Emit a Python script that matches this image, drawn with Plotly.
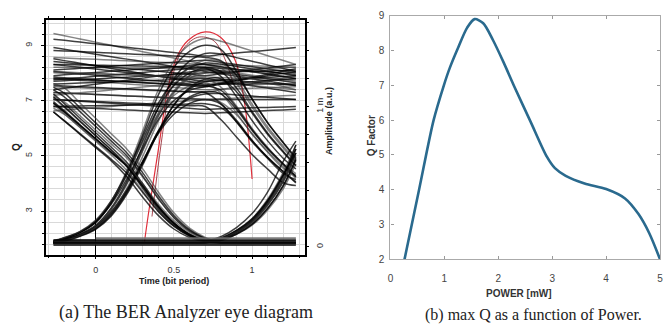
import numpy as np
import plotly.graph_objects as go

# ---------------- data: right panel (max Q vs power) ----------------
power_mw = [0.26, 0.53, 0.80, 0.99, 1.10, 1.26, 1.42, 1.56, 1.72, 1.90, 2.10, 2.30, 2.60, 2.90, 3.05, 3.25, 3.60, 4.00, 4.35, 4.60, 4.80, 5.00]
q_factor = [2.00, 4.00, 6.00, 7.00, 7.50, 8.10, 8.65, 8.90, 8.78, 8.30, 7.65, 6.95, 5.95, 4.95, 4.62, 4.40, 4.18, 4.02, 3.75, 3.30, 2.75, 2.00]

# ---------------- data: left panel (eye diagram) ----------------
eye_time   = [-0.27, -0.2, -0.1, 0.0, 0.1, 0.2, 0.3, 0.4, 0.5, 0.6, 0.7, 0.8, 0.9, 1.0, 1.1, 1.2, 1.28]
rise_left  = [0.00, 0.02, 0.05, 0.10, 0.20, 0.35, 0.54, 0.74, 0.88, 0.96, 0.99, 1.0, 1.0, 1.0, 1.0, 1.0, 1.0]
fall_left  = [0.93, 0.87, 0.78, 0.69, 0.60, 0.51, 0.38, 0.24, 0.13, 0.055, 0.015, 0.0, 0.0, 0.0, 0.0, 0.0, 0.0]
fall_right = [1.0, 1.0, 1.0, 1.0, 1.0, 1.0, 1.0, 1.0, 1.0, 1.0, 1.0, 0.97, 0.86, 0.72, 0.60, 0.50, 0.42]
rise_right = [0.0, 0.0, 0.0, 0.0, 0.0, 0.0, 0.0, 0.0, 0.0, 0.0, 0.0, 0.02, 0.065, 0.13, 0.24, 0.39, 0.57]

# (bit_prev, bit_cur, bit_next, low, high_start, high_mid, high_end, time_shift)  amplitude in mW-units (a.u.)
eye_traces = [
    (1, 1, 1, .03, 1.52, 1.30, 1.20, 0), (1, 1, 1, .03, 1.48, 1.36, 1.42, 0),
    (1, 1, 1, .03, 1.42, 1.25, 1.15, 0), (1, 1, 1, .03, 1.35, 1.30, 1.28, 0),
    (1, 1, 1, .03, 1.32, 1.22, 1.30, 0), (1, 1, 1, .03, 1.30, 1.18, 1.22, 0),
    (1, 1, 1, .03, 1.28, 1.27, 1.18, 0), (1, 1, 1, .03, 1.25, 1.15, 1.25, 0),
    (1, 1, 1, .03, 1.22, 1.30, 1.20, 0), (1, 1, 1, .03, 1.20, 1.12, 1.14, 0),
    (1, 1, 1, .03, 1.18, 1.24, 1.26, 0), (1, 1, 1, .03, 1.16, 1.20, 1.10, 0),
    (1, 1, 1, .03, 1.14, 1.10, 1.22, 0), (1, 1, 1, .03, 1.12, 1.26, 1.17, 0),
    (1, 1, 1, .03, 1.10, 1.05, 1.05, 0), (1, 1, 1, .03, 1.08, 1.18, 1.12, 0),
    (1, 1, 1, .03, 1.05, 0.98, 1.00, 0), (1, 1, 1, .03, 1.00, 0.95, 0.98, 0),
    (1, 1, 1, .03, 0.97, 1.05, 1.08, 0), (1, 1, 1, .03, 1.26, 1.33, 1.24, 0),
    (1, 1, 1, .03, 1.34, 1.16, 1.16, 0), (1, 1, 1, .03, 1.24, 1.21, 1.19, 0),
    (1, 1, 1, .03, 1.19, 1.28, 1.23, 0), (1, 1, 1, .03, 1.21, 1.14, 1.27, 0),
    (0, 1, 1, .03, 0, 1.50, 1.30, 0.00), (0, 1, 1, .03, 0, 1.40, 1.25, 0.02),
    (0, 1, 1, .03, 0, 1.32, 1.22, -0.02), (0, 1, 1, .03, 0, 1.25, 1.28, 0.00),
    (0, 1, 1, .03, 0, 1.20, 1.15, 0.03), (0, 1, 1, .03, 0, 1.15, 1.20, -0.03),
    (0, 1, 1, .03, 0, 1.28, 1.12, 0.01), (0, 1, 1, .03, 0, 1.10, 1.05, 0.00),
    (0, 1, 0, .03, 0, 1.45, 0, 0.00), (0, 1, 0, .03, 0, 1.35, 0, 0.02),
    (0, 1, 0, .03, 0, 1.28, 0, -0.02), (0, 1, 0, .03, 0, 1.22, 0, 0.04),
    (0, 1, 0, .03, 0, 1.18, 0, -0.04), (0, 1, 0, .03, 0, 1.12, 0, 0.01),
    (0, 1, 0, .03, 0, 1.06, 0, -0.01), (0, 1, 0, .03, 0, 1.30, 0, 0.03),
    (1, 1, 0, .03, 1.40, 1.35, 0, 0.04), (1, 1, 0, .03, 1.30, 1.28, 0, 0.02),
    (1, 1, 0, .03, 1.25, 1.20, 0, -0.02), (1, 1, 0, .03, 1.20, 1.15, 0, 0.00),
    (1, 1, 0, .03, 1.15, 1.10, 0, -0.04), (1, 1, 0, .03, 1.10, 1.05, 0, 0.03),
    (1, 1, 0, .03, 1.05, 1.00, 0, -0.06), (1, 1, 0, .03, 1.00, 1.02, 0, 0.01),
    (1, 0, 0, .03, 1.25, 0, 0, 0.04), (1, 0, 0, .03, 1.20, 0, 0, 0.02),
    (1, 0, 0, .03, 1.18, 0, 0, -0.01), (1, 0, 0, .03, 1.12, 0, 0, -0.03),
    (1, 0, 0, .03, 1.10, 0, 0, 0.00), (1, 0, 0, .03, 1.08, 0, 0, -0.05),
    (1, 0, 0, .03, 1.15, 0, 0, 0.03), (1, 0, 0, .03, 1.05, 0, 0, -0.02),
    (1, 0, 1, .03, 1.22, 0, 1.20, 0.03), (1, 0, 1, .03, 1.15, 0, 1.25, -0.01),
    (1, 0, 1, .03, 1.10, 0, 1.15, 0.00), (1, 0, 1, .03, 1.18, 0, 1.30, -0.03),
    (1, 0, 1, .03, 1.06, 0, 1.10, 0.02), (1, 0, 1, .03, 1.12, 0, 1.20, -0.01),
    (0, 0, 1, .03, 0, 0, 1.20, 0.00), (0, 0, 1, .03, 0, 0, 1.25, 0.02),
    (0, 0, 1, .03, 0, 0, 1.15, -0.02), (0, 0, 1, .03, 0, 0, 1.30, 0.01),
    (0, 0, 1, .03, 0, 0, 1.10, -0.01), (0, 0, 1, .03, 0, 0, 1.22, 0.03),
    (0, 0, 0, .015, 0, 0, 0, 0), (0, 0, 0, .022, 0, 0, 0, 0), (0, 0, 0, .030, 0, 0, 0, 0),
    (0, 0, 0, .036, 0, 0, 0, 0), (0, 0, 0, .042, 0, 0, 0, 0), (0, 0, 0, .048, 0, 0, 0, 0),
    (0, 0, 0, .060, 0, 0, 0, 0),
]

# Q (left axis) vs time, red curves
red_time_1 = [0.31, 0.34, 0.40, 0.466, 0.52, 0.59, 0.70, 0.80, 0.89, 0.95, 1.00]
red_q_1    = [1.80, 3.00, 5.20, 7.56, 8.60, 9.19, 9.50, 9.30, 8.50, 7.00, 4.16]
red_time_2 = [0.36, 0.42, 0.48, 0.55, 0.65, 0.75, 0.82, 0.88]
red_q_2    = [2.80, 5.50, 7.60, 8.80, 9.30, 9.20, 8.60, 7.60]

q_ticks = [3, 5, 7, 9]
amp_tickvals = [0, 1]
amp_ticktext = ["0", "1 m"]

# ---------------- build eye traces ----------------
T = np.array(eye_time)


def shifted(tpl, dt):
    return np.interp(T - dt, T, np.array(tpl))


def eye_wave(a, b, c, low, h1, h2, h3, dt):
    lin = np.interp(T, [-0.27, 0.7, 1.28], [h1, h2, h3])
    if a == 1 and b == 1:
        vl = lin
    elif a == 0 and b == 1:
        vl = low + (h2 - low) * shifted(rise_left, dt)
    elif a == 1 and b == 0:
        vl = low + (h1 - low) * shifted(fall_left, dt)
    else:
        vl = np.full_like(T, low)
    if b == 1 and c == 1:
        vr = lin
    elif b == 1 and c == 0:
        vr = low + (h2 - low) * shifted(fall_right, dt)
    elif b == 0 and c == 1:
        vr = low + (h3 - low) * shifted(rise_right, dt)
    else:
        vr = np.full_like(T, low)
    return np.where(T <= 0.7, vl, vr)


fig = go.Figure()

for i, tr in enumerate(eye_traces):
    y = eye_wave(*tr)
    is_low = tr[0] == 0 and tr[1] == 0 and tr[2] == 0
    x = T
    grey_low = is_low and tr[3] >= 0.06
    if grey_low:
        x = T[3:]
        y = y[3:]
    fig.add_trace(go.Scatter(
        x=x, y=y, mode="lines", xaxis="x", yaxis="y2",
        line=dict(color="rgba(110,110,110,0.9)" if grey_low else
                  ("rgba(0,0,0,0.75)" if i % 3 else "rgba(50,50,50,0.6)"),
                  width=2.4 if is_low else 1.5, shape="spline", smoothing=1.0),
        showlegend=False, hoverinfo="skip"))

fig.add_trace(go.Scatter(x=red_time_2, y=red_q_2, mode="lines", xaxis="x", yaxis="y",
                         line=dict(color="rgba(150,40,50,0.85)", width=1, shape="spline"),
                         showlegend=False, hoverinfo="skip"))
fig.add_trace(go.Scatter(x=red_time_1, y=red_q_1, mode="lines", xaxis="x", yaxis="y",
                         line=dict(color="#e0303c", width=1.2, shape="spline"),
                         showlegend=False, hoverinfo="skip"))

# right panel curve
fig.add_trace(go.Scatter(x=power_mw, y=q_factor, mode="lines", xaxis="x3", yaxis="y3",
                         line=dict(color="#2a6a8e", width=2.6, shape="spline", smoothing=0.8),
                         showlegend=False, hoverinfo="skip"))

grid_c = "#d9d9d9"
tick_font = dict(family="Liberation Sans, Arial", size=9, color="#333")
tick_font_r = dict(family="Liberation Sans, Arial", size=10, color="#444")

fig.update_layout(
    width=669, height=336, margin=dict(l=0, r=0, t=0, b=0),
    paper_bgcolor="white", plot_bgcolor="white", showlegend=False,
    xaxis=dict(domain=[43 / 669, 305 / 669], anchor="y", range=[-0.32, 1.34],
               tickvals=[0, 0.5, 1], ticktext=["0", "0.5", "1"], ticks="outside", ticklen=3,
               tickcolor="black", tickfont=tick_font, ticklabelstandoff=3,
               showgrid=True, gridcolor=grid_c, gridwidth=1,
               minor=dict(dtick=0.1, tick0=0, showgrid=True, gridcolor=grid_c, ticks="outside", ticklen=2, tickcolor="black"),
               showline=True, linecolor="black", linewidth=1.5, mirror="ticks",
               zeroline=True, zerolinecolor="black", zerolinewidth=1),
    yaxis=dict(domain=[1 - 258 / 336, 1 - 15 / 336], anchor="x", range=[1.42, 9.95],
               tickvals=q_ticks, ticks="outside", ticklen=3, tickcolor="black", tickangle=-90,
               tickfont=tick_font, ticklabelstandoff=5, showgrid=True, gridcolor=grid_c,
               minor=dict(dtick=0.4, tick0=3, showgrid=True, gridcolor=grid_c, ticks="outside", ticklen=2, tickcolor="black"),
               showline=True, linecolor="black", linewidth=1.5, mirror=True, zeroline=False),
    yaxis2=dict(overlaying="y", side="right", anchor="x", range=[-0.055, 1.62],
                tickvals=amp_tickvals, ticktext=amp_ticktext, ticks="outside", ticklen=3,
                tickcolor="black", tickangle=-90, tickfont=tick_font, ticklabelstandoff=3, showgrid=False,
                minor=dict(dtick=0.2, tick0=0, ticks="outside", ticklen=3, tickcolor="black"),
                showline=False, zeroline=False),
    xaxis3=dict(domain=[391 / 669, 663 / 669], anchor="y3", range=[0, 5], dtick=1,
                ticks="inside", ticklen=3, tickcolor="#999", showgrid=False, zeroline=False,
                showline=True, linecolor="#aaa", linewidth=1.2, mirror="ticks",
                tickfont=tick_font_r, ticklabelstandoff=10),
    yaxis3=dict(domain=[1 - 263 / 336, 1 - 11 / 336], anchor="x3", range=[2, 9], dtick=1,
                ticks="inside", ticklen=3, tickcolor="#999", showgrid=False, zeroline=False,
                showline=True, linecolor="#aaa", linewidth=1.2, mirror="ticks",
                tickfont=tick_font_r, ticklabelstandoff=3),
)

ann_font = dict(family="Liberation Sans, Arial", size=9, color="#222")
serif_a = dict(family="Liberation Serif", size=18, color="#222")
serif_b = dict(family="Liberation Serif", size=16, color="#222")
annotations = [
    dict(text="<b>Q</b>", x=13 / 669, y=1 - 147 / 336, textangle=-90, font=dict(family="Liberation Sans", size=10, color="#222")),
    dict(text="<b>Amplitude (a.u.)</b>", x=329 / 669, y=1 - 120 / 336, textangle=-90, font=ann_font),
    dict(text="<b>Time (bit period)</b>", x=173 / 669, y=1 - 285 / 336, font=ann_font),
    dict(text="(a) The BER Analyzer eye diagram", x=185 / 669, y=1 - 318 / 336, font=serif_a),
    dict(text="<b>Q Factor</b>", x=372 / 669, y=1 - 135 / 336, textangle=-90,
         font=dict(family="Liberation Sans, Arial", size=10, color="#333")),
    dict(text="<b>POWER [mW]</b>", x=521 / 669, y=1 - 298 / 336,
         font=dict(family="Liberation Sans, Arial", size=10, color="#333")),
    dict(text="(b) max Q as a function of Power.", x=535 / 669, y=1 - 320 / 336, font=serif_b),
]
for a in annotations:
    a.update(xref="paper", yref="paper", showarrow=False, xanchor="center", yanchor="middle")
fig.update_layout(annotations=annotations)

fig.write_html("out.html", config={"displayModeBar": False},
               post_script="document.body.style.margin='0';document.body.style.overflow='hidden';")
